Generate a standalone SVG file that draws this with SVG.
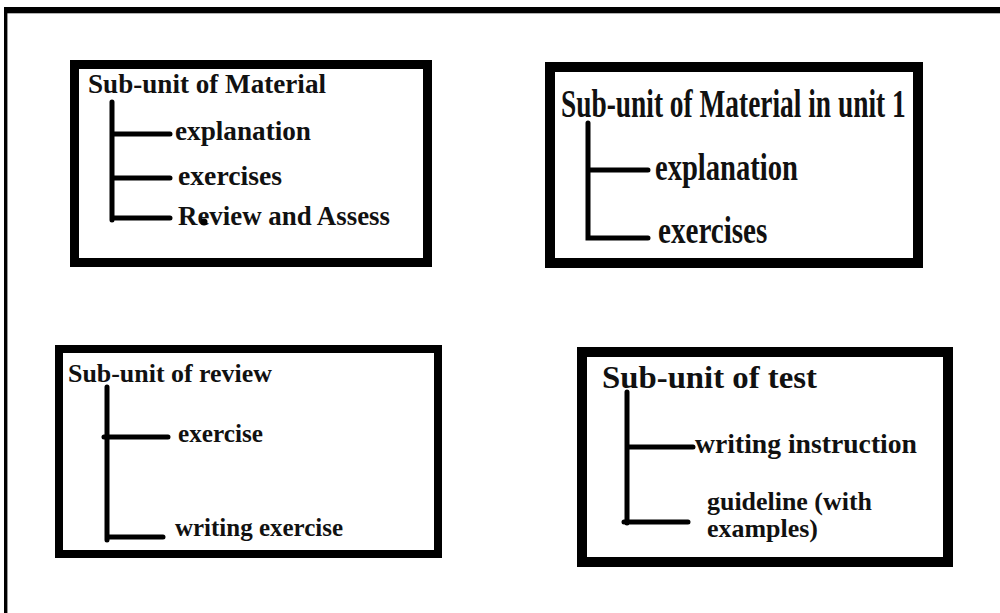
<svg xmlns="http://www.w3.org/2000/svg" width="1000" height="613" viewBox="0 0 1000 613">
<style>
.box{fill:none;stroke:#000}
.t{font-family:"Liberation Serif","Times New Roman",serif;font-weight:bold;fill:#111}
.ln{stroke:#000;stroke-width:5;stroke-linecap:round;fill:none}
</style>
<rect width="1000" height="613" fill="#fff"/>
<g id="frame">
<rect x="4" y="7" width="996" height="6.3" fill="#000"/>
<rect x="4" y="7" width="3.4" height="606" fill="#000"/>
</g>
<g id="node-material">
<rect class="box" x="74.5" y="64.5" width="353" height="198" stroke-width="9"/>
<text class="t" x="88" y="93" font-size="27" textLength="238" lengthAdjust="spacingAndGlyphs">Sub-unit of Material</text>
<text class="t" x="175" y="140" font-size="27" textLength="136" lengthAdjust="spacingAndGlyphs">explanation</text>
<text class="t" x="178" y="185" font-size="27" textLength="104" lengthAdjust="spacingAndGlyphs">exercises</text>
<text class="t" x="178" y="225" font-size="27" textLength="212" lengthAdjust="spacingAndGlyphs">Review and Assess</text>
<circle cx="204" cy="222" r="3.5" fill="#000"/>
</g>
<g id="node-material-unit1">
<rect class="box" x="550" y="67" width="368" height="196" stroke-width="10"/>
<text class="t" transform="translate(561,117) scale(0.685,1)" x="0" y="0" font-size="40">Sub-unit of Material in unit 1</text>
<text class="t" transform="translate(655,180) scale(0.773,1)" x="0" y="0" font-size="37">explanation</text>
<text class="t" transform="translate(658,243) scale(0.787,1)" x="0" y="0" font-size="37">exercises</text>
</g>
<g id="node-review">
<rect class="box" x="59" y="349" width="379" height="205" stroke-width="8"/>
<text class="t" x="68" y="382" font-size="25.5" textLength="204" lengthAdjust="spacingAndGlyphs">Sub-unit of review</text>
<text class="t" x="178" y="442" font-size="25.5" textLength="85" lengthAdjust="spacingAndGlyphs">exercise</text>
<text class="t" x="175" y="536" font-size="25.5" textLength="168" lengthAdjust="spacingAndGlyphs">writing exercise</text>
</g>
<g id="node-test">
<rect class="box" x="582" y="352" width="366" height="210" stroke-width="10"/>
<text class="t" x="602" y="388" font-size="32.5" textLength="215" lengthAdjust="spacingAndGlyphs">Sub-unit of test</text>
<text class="t" x="695" y="453" font-size="27" textLength="222" lengthAdjust="spacingAndGlyphs">writing instruction</text>
<text class="t" x="707" y="510" font-size="26" textLength="165" lengthAdjust="spacingAndGlyphs">guideline (with</text>
<text class="t" x="707" y="537" font-size="26" textLength="111" lengthAdjust="spacingAndGlyphs">examples)</text>
</g>
<g id="connectors">
<path class="ln" d="M112,102 V220 M112,134 H170 M112,178 H170 M112,218 H170"/>
<path class="ln" d="M588,123 V238 H648 M588,170 H648"/>
<path class="ln" d="M107,387 V540 M104,437 H168 M107,537 H163"/>
<path class="ln" d="M627,392 V523 M627,447 H693 M624,522 H688"/>
</g>
</svg>
